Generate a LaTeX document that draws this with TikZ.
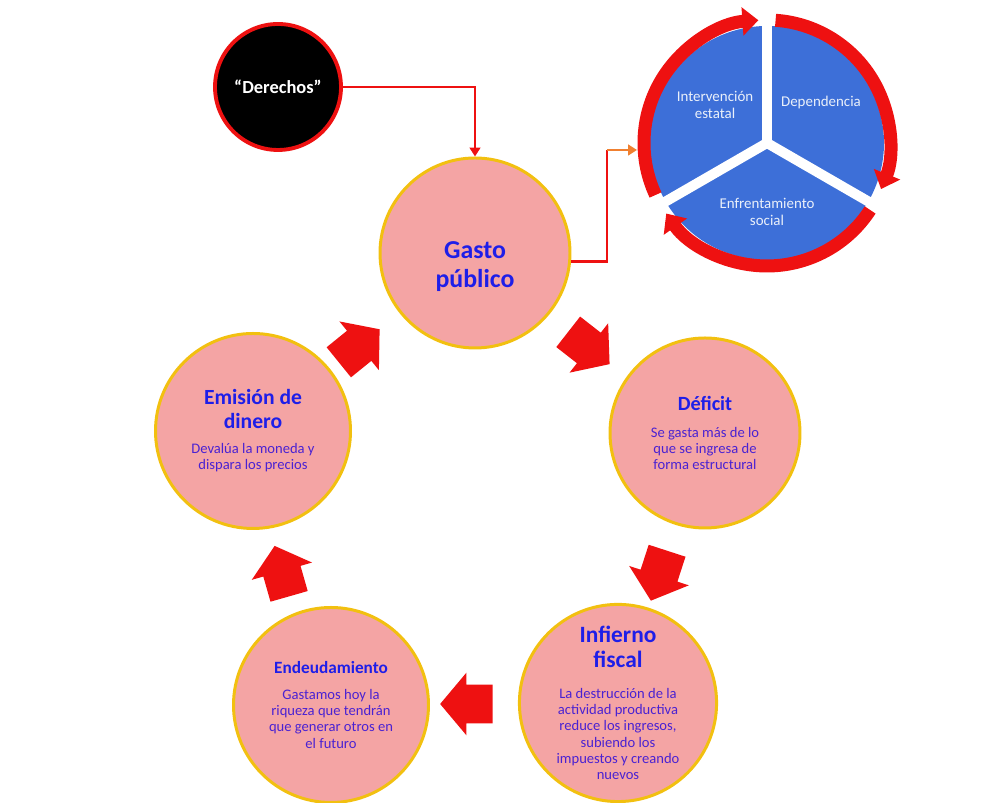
\documentclass[tikz,border=0pt]{standalone}
\usepackage{fontspec}
\setmainfont{Carlito}
\usetikzlibrary{calc,shapes.arrows,arrows.meta}
\definecolor{rose}{HTML}{F4A4A4}
\definecolor{gold}{HTML}{F2C010}
\definecolor{titleblue}{HTML}{1E1EE8}
\definecolor{bodyblue}{HTML}{4A22D2}
\definecolor{flame}{HTML}{EE1111}
\definecolor{pieblue}{HTML}{3D6FD8}
\definecolor{pietext}{HTML}{EAF0FA}
\definecolor{tangerine}{HTML}{F08030}
\newcommand\ttl[2]{{\color{titleblue}\fontsize{#1}{#1}\selectfont\bfseries #2}}

\begin{document}
\begin{tikzpicture}[bubble/.style={circle,draw=gold,line width=1.7pt,fill=rose,minimum size=#1,inner sep=0pt,align=center,text=bodyblue,font=\fontsize{8.3}{9.3}\selectfont},
 bigarrow/.style={single arrow,fill=flame,inner xsep=0pt,inner ysep=0.38cm,minimum height=1.05cm,single arrow head extend=0.24cm,single arrow tip angle=100},
 link/.style={flame,line width=1.6pt,-{Triangle[width=6pt,length=5pt]}},
 ring/.style={flame,line width=0.26cm,-{Triangle[width=0.55cm,length=0.32cm]}},
 pielabel/.style={text=pietext,align=center,font=\fontsize{8.5}{9.6}\selectfont}]
 \useasboundingbox (0,0) rectangle (19.76,16.06);
 % the cycle
 \node[circle,draw=flame,line width=2.2pt,fill=black,minimum size=2.52cm,text=white,font=\fontsize{10.5}{12}\selectfont\bfseries] (derechos) at (5.56,14.32) {“Derechos”};
 \node[bubble=3.8cm] (gasto) at (9.5,11.0) {\mbox{}\\[14pt]\ttl{14.7}{Gasto}\\[5pt]\ttl{14.7}{público}};
 \node[bubble=3.8cm] (deficit) at (14.1,7.4) {\ttl{11.5}{Déficit}\\[6pt]Se gasta más de lo\\que se ingresa de\\forma estructural};
 \node[bubble=3.9cm] (infierno) at (12.36,2.0) {\ttl{13.3}{Infierno}\\[4pt]\ttl{13.3}{fiscal}\\[8pt]La destrucción de la\\actividad productiva\\reduce los ingresos,\\subiendo los\\impuestos y creando\\nuevos};
 \node[bubble=3.9cm] (endeuda) at (6.62,1.96) {\ttl{9.8}{Endeudamiento}\\[5pt]Gastamos hoy la\\riqueza que tendrán\\que generar otros en\\el futuro};
 \node[bubble=3.9cm] (emision) at (5.06,7.44) {\ttl{12.3}{Emisión de}\\[4pt]\ttl{12.3}{dinero}\\[5pt]Devalúa la moneda y\\dispara los precios};
 \node[bigarrow,rotate=-38] (a1) at ($(gasto)!.5!(deficit)+(-0.15,0)$) {};
 \node[bigarrow,rotate=-108] (a2) at ($(deficit)!.5!(infierno)$) {};
 \node[bigarrow,rotate=180] (a3) at ($(infierno)!.5!(endeuda)$) {};
 \node[bigarrow,rotate=106] (a4) at ($(endeuda)!.46!(emision)+(-0.22,0)$) {};
 \node[bigarrow,rotate=39] (a5) at ($(emision)!.45!(gasto)$) {};
 % the pie
 \coordinate (pie) at (15.34,13.2);
 \fill[pieblue] (pie) -- ++(90:2.34) arc[start angle=90,end angle=210,radius=2.34] -- cycle;
 \fill[pieblue] (pie) -- ++(-30:2.34) arc[start angle=-30,end angle=90,radius=2.34] -- cycle;
 \fill[pieblue] (pie) -- ++(210:2.34) arc[start angle=210,end angle=330,radius=2.34] -- cycle;
 \foreach \a in {90,210,330}{\draw[white,line width=0.2cm] (pie) -- ++(\a:2.4);}
 \draw[ring] ($(pie)+(205:2.46)$) arc[start angle=205,end angle=94,radius=2.46];
 \draw[ring] ($(pie)+(86:2.46)$) arc[start angle=86,end angle=-22,radius=2.46];
 \draw[ring] ($(pie)+(-33:2.46)$) arc[start angle=-33,end angle=-145,radius=2.46];
 \node[pielabel] (interv) at (14.3,13.96) {Intervención\\estatal};
 \node[pielabel] (depend) at (16.42,14.0) {Dependencia};
 \node[pielabel] (enfrent) at (15.34,11.82) {Enfrentamiento\\social};
 % connectors
 \coordinate (bend) at (12.14,13.06);
 \coordinate (piein) at (12.74,13.06);
 \draw[link] (derechos.east) -| (gasto.north);
 \draw[flame,line width=1.6pt] (gasto.-5) -| (bend);
 \draw[tangerine,line width=1.6pt,-{Triangle[width=6pt,length=5pt]}] (bend) -- (piein);
\end{tikzpicture}
\end{document}
